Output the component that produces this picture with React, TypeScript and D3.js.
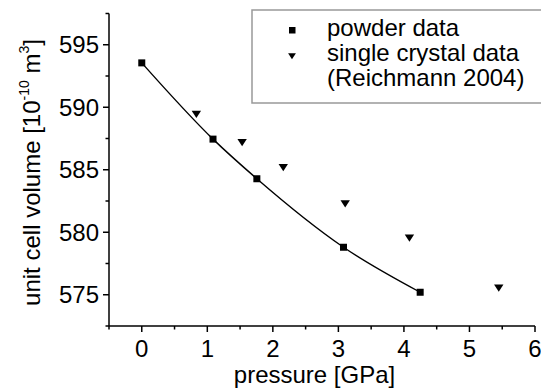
import React from "react";
import * as d3 from "d3";

const powderP = [0, 1.087, 1.756, 3.078, 4.248];
const powderV = [593.55, 587.45, 584.28, 578.8, 575.2];
const crystalP = [0.833, 1.531, 2.159, 3.104, 4.084, 5.447];
const crystalV = [589.45, 587.2, 585.2, 582.3, 579.55, 575.55];
const xTicks = [0, 1, 2, 3, 4, 5, 6];
const yTicks = [575, 580, 585, 590, 595];
const legendLabels = ["powder data", "single crystal data", "(Reichmann 2004)"];

const W = 541, H = 389;
const FONT = "'Liberation Sans', Arial, sans-serif";

export default function App() {
  const x = d3.scaleLinear().domain([-0.5, 6]).range([109, 535]);
  const y = d3.scaleLinear().domain([572.5, 597.5]).range([326, 13.5]);
  const xMinor = d3.range(-0.5, 6.01, 0.5).filter((v) => !xTicks.includes(v));
  const yMinor = d3.range(572.5, 597.6, 2.5).filter((v) => !yTicks.includes(v));
  const powder = powderP.map((p, i) => [p, powderV[i]] as [number, number]);
  const crystal = crystalP.map((p, i) => [p, crystalV[i]] as [number, number]);
  const line = d3
    .line<[number, number]>()
    .x((d) => x(d[0]))
    .y((d) => y(d[1]))
    .curve(d3.curveMonotoneX);
  const tri = (cx: number, cy: number, s: number) =>
    `M${cx - s},${cy - s * 0.7}L${cx + s},${cy - s * 0.7}L${cx},${cy + s * 0.85}Z`;

  return (
    <svg width={W} height={H} style={{ position: "absolute", left: 0, top: 0, background: "#fff" }} fontFamily={FONT}>
      <rect width={W} height={H} fill="#fff" />
      {/* axes */}
      <line x1={109} x2={109} y1={y(597.5)} y2={326} stroke="#000" strokeWidth={1.5} />
      <line x1={109} x2={535} y1={326} y2={326} stroke="#000" strokeWidth={1.5} />
      {yTicks.map((t) => (
        <g key={"y" + t}>
          <line x1={103} x2={109} y1={y(t)} y2={y(t)} stroke="#000" strokeWidth={1.5} />
          <text x={99} y={y(t) + 8.5} fontSize={24} textAnchor="end">{t}</text>
        </g>
      ))}
      {yMinor.map((t) => (
        <line key={"ym" + t} x1={105.5} x2={109} y1={y(t)} y2={y(t)} stroke="#000" strokeWidth={1.5} />
      ))}
      {xTicks.map((t) => (
        <g key={"x" + t}>
          <line x1={x(t)} x2={x(t)} y1={326} y2={332} stroke="#000" strokeWidth={1.5} />
          <text x={x(t)} y={357} fontSize={24} textAnchor="middle">{t}</text>
        </g>
      ))}
      {xMinor.map((t) => (
        <line key={"xm" + t} x1={x(t)} x2={x(t)} y1={326} y2={329.5} stroke="#000" strokeWidth={1.5} />
      ))}
      <text x={314.5} y={383} fontSize={24} textAnchor="middle">pressure [GPa]</text>
      <text transform={`translate(40,172.5) rotate(-90)`} fontSize={24} textAnchor="middle">
        unit cell volume [10<tspan fontSize={14} dy={-11}>-10</tspan>
        <tspan dy={11}> m</tspan>
        <tspan fontSize={14} dy={-11}>3</tspan>
        <tspan dy={11}>]</tspan>
      </text>
      {/* fit line */}
      <path d={line(powder) || ""} fill="none" stroke="#000" strokeWidth={1.4} />
      {powder.map((d, i) => (
        <rect key={"p" + i} x={x(d[0]) - 3.5} y={y(d[1]) - 3.5} width={7} height={7} fill="#000" />
      ))}
      {crystal.map((d, i) => (
        <path key={"c" + i} d={tri(x(d[0]), y(d[1]), 4.7)} fill="#000" />
      ))}
      {/* legend */}
      <rect x={252} y={10} width={300} height={93} fill="#fff" stroke="#999" strokeWidth={1.5} />
      <rect x={289} y={27} width={6.5} height={6.5} fill="#000" />
      <path d={tri(292, 56, 3.9)} fill="#000" />
      {legendLabels.map((l, i) => (
        <text key={l} x={327} y={36 + i * 25} fontSize={24}>{l}</text>
      ))}
    </svg>
  );
}
